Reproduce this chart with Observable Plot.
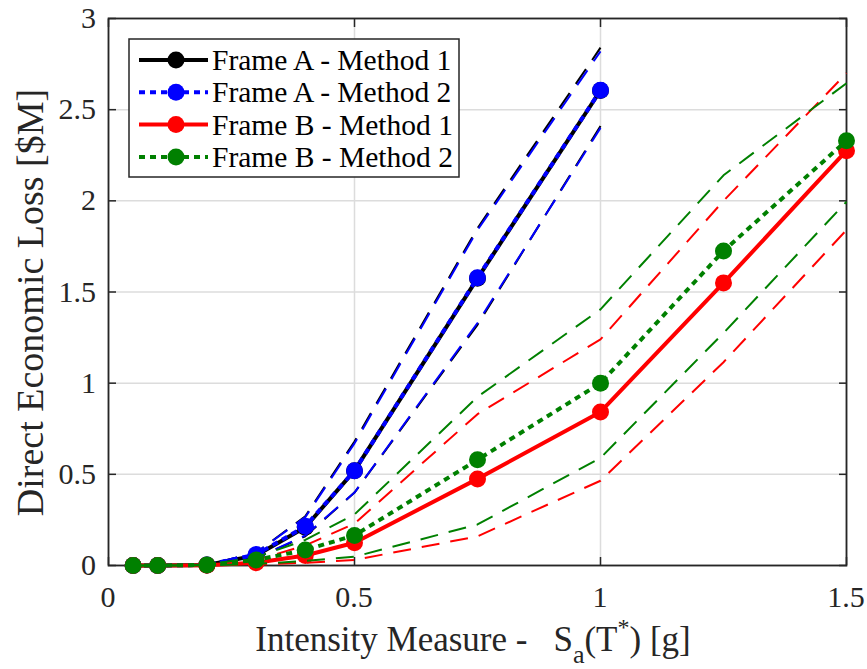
<!DOCTYPE html>
<html>
<head>
<meta charset="utf-8">
<script src="https://cdn.jsdelivr.net/npm/d3@7"></script>
<script src="https://cdn.jsdelivr.net/npm/@observablehq/plot@0.6"></script>
<style>
  body { margin: 0; background: #fff; }
  #chart { width: 867px; height: 669px; }
</style>
</head>
<body>
<div id="chart"></div>
<script>
// ---------- data ----------
const intensity = [0.05, 0.1, 0.2, 0.3, 0.4, 0.5, 0.75, 1.0, 1.25, 1.5];
const intensityA = [0.05, 0.1, 0.2, 0.3, 0.4, 0.5, 0.75, 1.0];

const frameA_m1       = [0, 0, 0.003, 0.055, 0.21, 0.52, 1.575, 2.605];
const frameA_m1_upper = [0, 0, 0.004, 0.07, 0.27, 0.68, 1.85, 2.84];
const frameA_m1_lower = [0, 0, 0.002, 0.04, 0.16, 0.40, 1.32, 2.41];
const frameA_m2       = [0, 0, 0.003, 0.06, 0.215, 0.52, 1.578, 2.606];
const frameA_m2_upper = [0, 0, 0.004, 0.07, 0.265, 0.67, 1.84, 2.82];
const frameA_m2_lower = [0, 0, 0.002, 0.04, 0.165, 0.40, 1.33, 2.40];

const frameB_m1       = [0, 0, 0.002, 0.015, 0.055, 0.125, 0.475, 0.842, 1.55, 2.275];
const frameB_m1_upper = [0, 0, 0.003, 0.03, 0.11, 0.23, 0.83, 1.24, 2.0, 2.70];
const frameB_m1_lower = [0, 0, 0.001, 0.005, 0.015, 0.03, 0.16, 0.465, 1.115, 1.84];
const frameB_m2       = [0, 0, 0.003, 0.03, 0.085, 0.165, 0.58, 1.0, 1.725, 2.33];
const frameB_m2_upper = [0, 0, 0.004, 0.045, 0.14, 0.28, 0.925, 1.405, 2.14, 2.645];
const frameB_m2_lower = [0, 0, 0.001, 0.008, 0.025, 0.048, 0.225, 0.59, 1.275, 1.995];

const seriesNames = ["Frame A - Method 1", "Frame A - Method 2", "Frame B - Method 1", "Frame B - Method 2"];
const xTicks = [0, 0.5, 1, 1.5];
const yTicks = [0, 0.5, 1, 1.5, 2, 2.5, 3];
const xTickLabels = ["0", "0.5", "1", "1.5"];
const yTickLabels = ["0", "0.5", "1", "1.5", "2", "2.5", "3"];
const xDomain = [0, 1.5];
const yDomain = [0, 3];
const xTitle = ["Intensity Measure -", "S", "a", "(T", "*", ") [g]"];
const yTitle = "Direct Economic Loss [$M]";

// ---------- styles ----------
const colors = ["#000000", "#0000ff", "#ff0000", "#008000"];
const mainDash = [null, "6,5", null, "6,5"];
const boundDash = "18,11";
const FONT = "'Liberation Serif', 'Times New Roman', Times, serif";
const INK = "#262626";

const rows = (xs, ys) => xs.map((x, i) => ({x, y: ys[i]}));

const groups = [
  {xs: intensityA, main: frameA_m1, up: frameA_m1_upper, lo: frameA_m1_lower},
  {xs: intensityA, main: frameA_m2, up: frameA_m2_upper, lo: frameA_m2_lower},
  {xs: intensity,  main: frameB_m1, up: frameB_m1_upper, lo: frameB_m1_lower},
  {xs: intensity,  main: frameB_m2, up: frameB_m2_upper, lo: frameB_m2_lower}
];

const dataMarks = [];
groups.forEach((g, k) => {
  const c = colors[k];
  for (const b of [g.up, g.lo]) {
    dataMarks.push(Plot.line(rows(g.xs, b), {x: "x", y: "y", stroke: c, strokeWidth: 2,
      strokeDasharray: boundDash, strokeLinecap: "butt", strokeLinejoin: "miter"}));
  }
  dataMarks.push(Plot.line(rows(g.xs, g.main), {x: "x", y: "y", stroke: c, strokeWidth: 4,
    strokeDasharray: mainDash[k], strokeLinecap: "butt", strokeLinejoin: "round"}));
  dataMarks.push(Plot.dot(rows(g.xs, g.main), {x: "x", y: "y", r: 8.5, fill: c, stroke: null}));
});

const tickOpts = {stroke: INK, strokeWidth: 1.5, tickFormat: () => "", label: null};

const chart = Plot.plot({
  width: 867,
  height: 669,
  marginLeft: 108,
  marginRight: 21,
  marginTop: 18,
  marginBottom: 104,
  style: {fontFamily: FONT, fontSize: "30px", color: INK, background: "#fff", overflow: "visible"},
  x: {domain: xDomain},
  y: {domain: yDomain},
  marks: [
    Plot.gridX(xTicks, {stroke: "#dcdcdc", strokeOpacity: 1, strokeWidth: 1.5}),
    Plot.gridY(yTicks, {stroke: "#dcdcdc", strokeOpacity: 1, strokeWidth: 1.5}),
    Plot.frame({stroke: INK, strokeWidth: 1.8}),
    Plot.axisX(xTicks, {anchor: "bottom", tickSize: -8, ...tickOpts}),
    Plot.axisX(xTicks, {anchor: "top", tickSize: -8, ...tickOpts}),
    Plot.axisY(yTicks, {anchor: "left", tickSize: -8, ...tickOpts}),
    Plot.axisY(yTicks, {anchor: "right", tickSize: -8, ...tickOpts}),
    ...dataMarks
  ]
});

document.getElementById("chart").appendChild(chart);

// ---------- tick labels, titles & legend ----------
const svg = d3.select(chart);
const sx = chart.scale("x"), sy = chart.scale("y");
const plotL = sx.apply(xDomain[0]), plotR = sx.apply(xDomain[1]);
const plotT = sy.apply(yDomain[1]), plotB = sy.apply(yDomain[0]);

const lab = svg.append("g").attr("fill", INK).attr("font-size", 30);
xTicks.forEach((v, i) => {
  lab.append("text").attr("x", sx.apply(v)).attr("y", plotB + 42)
    .attr("text-anchor", "middle").text(xTickLabels[i]);
});
yTicks.forEach((v, i) => {
  lab.append("text").attr("x", plotL - 12).attr("y", sy.apply(v) + 10)
    .attr("text-anchor", "end").text(yTickLabels[i]);
});

// x title with sub/superscript
const xt = svg.append("text")
  .attr("x", (plotL + plotR) / 2 - 4).attr("y", 651)
  .attr("text-anchor", "middle").attr("font-size", 35).attr("fill", INK);
xt.append("tspan").text(xTitle[0]);
xt.append("tspan").attr("dx", 26).text(xTitle[1]);
xt.append("tspan").attr("dy", 12).attr("font-size", 26).text(xTitle[2]);
xt.append("tspan").attr("dy", -12).text(xTitle[3]);
xt.append("tspan").attr("dy", -16).attr("font-size", 24).text(xTitle[4]);
xt.append("tspan").attr("dy", 16).text(xTitle[5]);

// y title
svg.append("text")
  .attr("transform", `translate(43,${(plotT + plotB) / 2 + 11}) rotate(-90)`)
  .attr("text-anchor", "middle").attr("font-size", 38).attr("fill", INK)
  .text(yTitle);

// legend
const lg = svg.append("g").attr("text-anchor", "start");
lg.append("rect").attr("x", 129).attr("y", 39).attr("width", 330).attr("height", 138)
  .attr("fill", "#fff").attr("stroke", INK).attr("stroke-width", 1.5);
seriesNames.forEach((name, k) => {
  const cy = 60 + k * 32.3;
  lg.append("line").attr("x1", 139).attr("x2", 208).attr("y1", cy).attr("y2", cy)
    .attr("stroke", colors[k]).attr("stroke-width", 4)
    .attr("stroke-dasharray", mainDash[k]).attr("stroke-linecap", "butt");
  lg.append("circle").attr("cx", 176).attr("cy", cy).attr("r", 8.5).attr("fill", colors[k]);
  lg.append("text").attr("x", 212).attr("y", cy + 10).attr("text-anchor", "start")
    .attr("font-size", 29.5).attr("fill", "#000").text(name);
});

svg.selectAll("text, tspan").style("font-family", FONT);
</script>
</body>
</html>
